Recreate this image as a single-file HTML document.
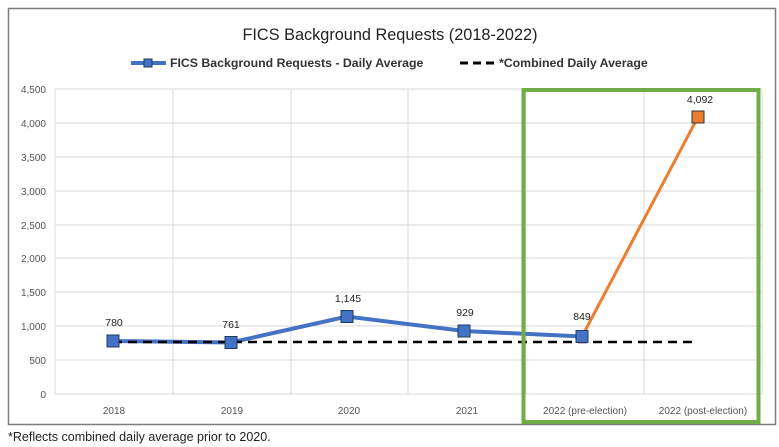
<!DOCTYPE html><html><head><style>body{margin:0;background:#fff}svg{display:block;font-family:"Liberation Sans",sans-serif}</style></head><body>
<svg width="779" height="447" viewBox="0 0 779 447">
<rect x="8.5" y="8.5" width="767" height="416" fill="#fff" stroke="#7f7f7f" stroke-width="1.5"/>
<text x="390" y="40" text-anchor="middle" font-size="16.3" fill="#222">FICS Background Requests (2018-2022)</text>
<line x1="131" y1="63" x2="166" y2="63" stroke="#4472c4" stroke-width="4"/>
<rect x="144" y="59" width="8" height="8" fill="#4472c4" stroke="#1f3864"/>
<text x="170" y="67" font-size="12.3" font-weight="bold" fill="#333">FICS Background Requests - Daily Average</text>
<line x1="460" y1="63" x2="494" y2="63" stroke="#000" stroke-width="3" stroke-dasharray="8,5"/>
<text x="499" y="67" font-size="12.3" font-weight="bold" fill="#333">*Combined Daily Average</text>
<g stroke="#d9d9d9" stroke-width="1">
<line x1="55" y1="89" x2="762" y2="89"/><line x1="55" y1="123" x2="762" y2="123"/><line x1="55" y1="157" x2="762" y2="157"/><line x1="55" y1="191" x2="762" y2="191"/><line x1="55" y1="225" x2="762" y2="225"/><line x1="55" y1="258" x2="762" y2="258"/><line x1="55" y1="292" x2="762" y2="292"/><line x1="55" y1="326" x2="762" y2="326"/><line x1="55" y1="360" x2="762" y2="360"/>
<line x1="55" y1="89" x2="55" y2="394"/><line x1="173" y1="89" x2="173" y2="394"/><line x1="291" y1="89" x2="291" y2="394"/><line x1="408" y1="89" x2="408" y2="394"/><line x1="526" y1="89" x2="526" y2="394"/><line x1="644" y1="89" x2="644" y2="394"/><line x1="762" y1="89" x2="762" y2="394"/>
<line x1="55" y1="394" x2="762" y2="394"/>
</g>
<g font-size="10" fill="#555" text-anchor="end">
<text x="46" y="93">4,500</text><text x="46" y="127">4,000</text><text x="46" y="161">3,500</text><text x="46" y="195">3,000</text><text x="46" y="229">2,500</text><text x="46" y="262">2,000</text><text x="46" y="296">1,500</text><text x="46" y="330">1,000</text><text x="46" y="364">500</text><text x="46" y="398">0</text>
</g>
<g font-size="10" fill="#555" text-anchor="middle">
<text x="114" y="414">2018</text><text x="232" y="414">2019</text><text x="349" y="414">2020</text><text x="467" y="414">2021</text><text x="585" y="414">2022 (pre-election)</text><text x="703" y="414">2022 (post-election)</text>
</g>
<polyline points="113,341 231,342.5 347,316.5 464,331 582,336.5" fill="none" stroke="#4472c4" stroke-width="4"/>
<line x1="582" y1="336.5" x2="698" y2="117" stroke="#ed7d31" stroke-width="3"/>
<line x1="113" y1="342" x2="695" y2="342" stroke="#000" stroke-width="2.5" stroke-dasharray="9,6"/>
<g fill="#4472c4" stroke="#1f3864" stroke-width="1">
<rect x="107" y="335" width="12" height="12"/><rect x="225" y="336.5" width="12" height="12"/><rect x="341" y="310.5" width="12" height="12"/><rect x="458" y="325" width="12" height="12"/><rect x="576" y="330.5" width="12" height="12"/>
</g>
<rect x="692" y="111" width="12" height="12" fill="#ed7d31" stroke="#333"/>
<g font-size="10.5" fill="#222" text-anchor="middle">
<text x="114" y="326">780</text><text x="231" y="328">761</text><text x="348" y="302">1,145</text><text x="465" y="316">929</text><text x="582" y="320">849</text><text x="700" y="103">4,092</text>
</g>
<rect x="523.5" y="90" width="235" height="332" fill="none" stroke="#70ad47" stroke-width="4"/>
<text x="8" y="441" font-size="12.5" fill="#222">*Reflects combined daily average prior to 2020.</text>
</svg></body></html>
